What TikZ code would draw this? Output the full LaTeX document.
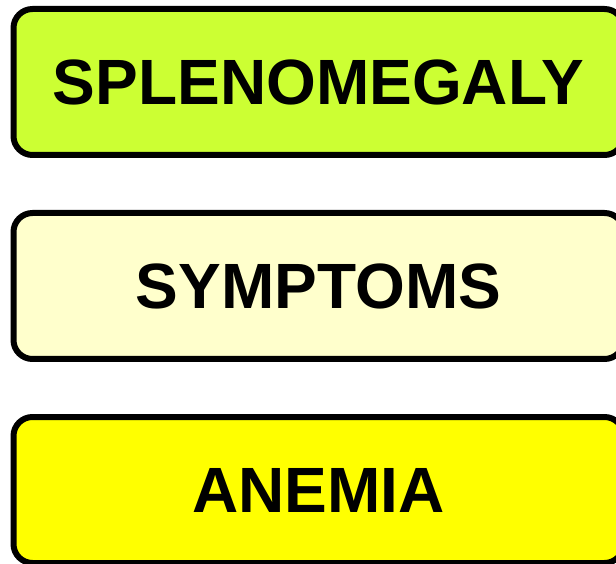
\documentclass[tikz,border=0pt]{standalone}
\usepackage{fontspec}
\setmainfont{Liberation Sans}
\definecolor{limefill}{HTML}{CCFF33}
\definecolor{paleyellow}{HTML}{FFFFCC}
\definecolor{brightyellow}{HTML}{FFFF00}
\begin{document}
\begin{tikzpicture}[x=1pt,y=1pt,
  labelbox/.style={draw=black, line width=6pt, rounded corners=19pt,
    minimum width=610pt, minimum height=146pt, inner sep=0pt,
    font=\fontsize{64}{70}\selectfont\bfseries, text=black}]
\useasboundingbox (0,0) rectangle (616,563);
\clip (0,0) rectangle (616,563);
\node[labelbox, fill=limefill] (splen) at (318.5,481) {SPLENOMEGALY};
\node[labelbox, fill=paleyellow] (symp) at (318.5,277) {SYMPTOMS};
\node[labelbox, fill=brightyellow] (anem) at (318.5,73) {ANEMIA};
\end{tikzpicture}
\end{document}
